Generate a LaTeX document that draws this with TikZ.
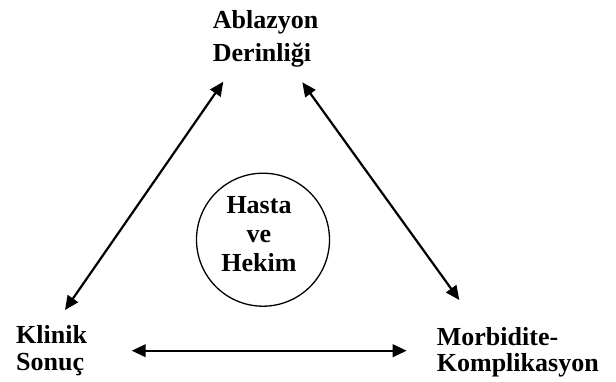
\documentclass[tikz,border=0pt]{standalone}
\usepackage{fontspec}
\setmainfont{Liberation Serif}
\usetikzlibrary{arrows.meta}
\begin{document}
\begin{tikzpicture}[x=1pt,y=-1pt,
  lbl/.style={inner sep=0pt, font=\bfseries\fontsize{26}{26.7}\selectfont, align=left, anchor=base west},
  arr/.style={line width=2.2pt, {Triangle[length=14pt,width=12.5pt]}-{Triangle[length=14pt,width=12.5pt]}}]
\useasboundingbox (0,0) rectangle (616,381);
\node[lbl, font=\bfseries\fontsize{26}{33.3}\selectfont] (abl) at (212.7,61.7) {Ablazyon\\Derinliği};
\node[lbl] (kli) at (16,370) {Klinik\\Sonuç};
\node[lbl] (mor) at (436.7,371.7) {Morbidite-\\Komplikasyon};
\node[draw, circle, line width=1.3pt, minimum size=133pt, inner sep=0pt] (hh) at (263,239.7) {};
\node[inner sep=0pt, font=\bfseries\fontsize{26}{29.2}\selectfont, align=center, anchor=base] (hht) at (259,271.7) {Hasta\\ve\\Hekim};
\coordinate (lt) at (223.3,81.7);
\coordinate (lb) at (65,310);
\coordinate (rt) at (302.3,82.3);
\coordinate (rb) at (459.3,300);
\coordinate (bl) at (131.7,350.7);
\coordinate (br) at (406.7,350.7);
\draw[arr] (lt) -- (lb);
\draw[arr] (rt) -- (rb);
\draw[arr] (bl) -- (br);
\end{tikzpicture}
\end{document}
